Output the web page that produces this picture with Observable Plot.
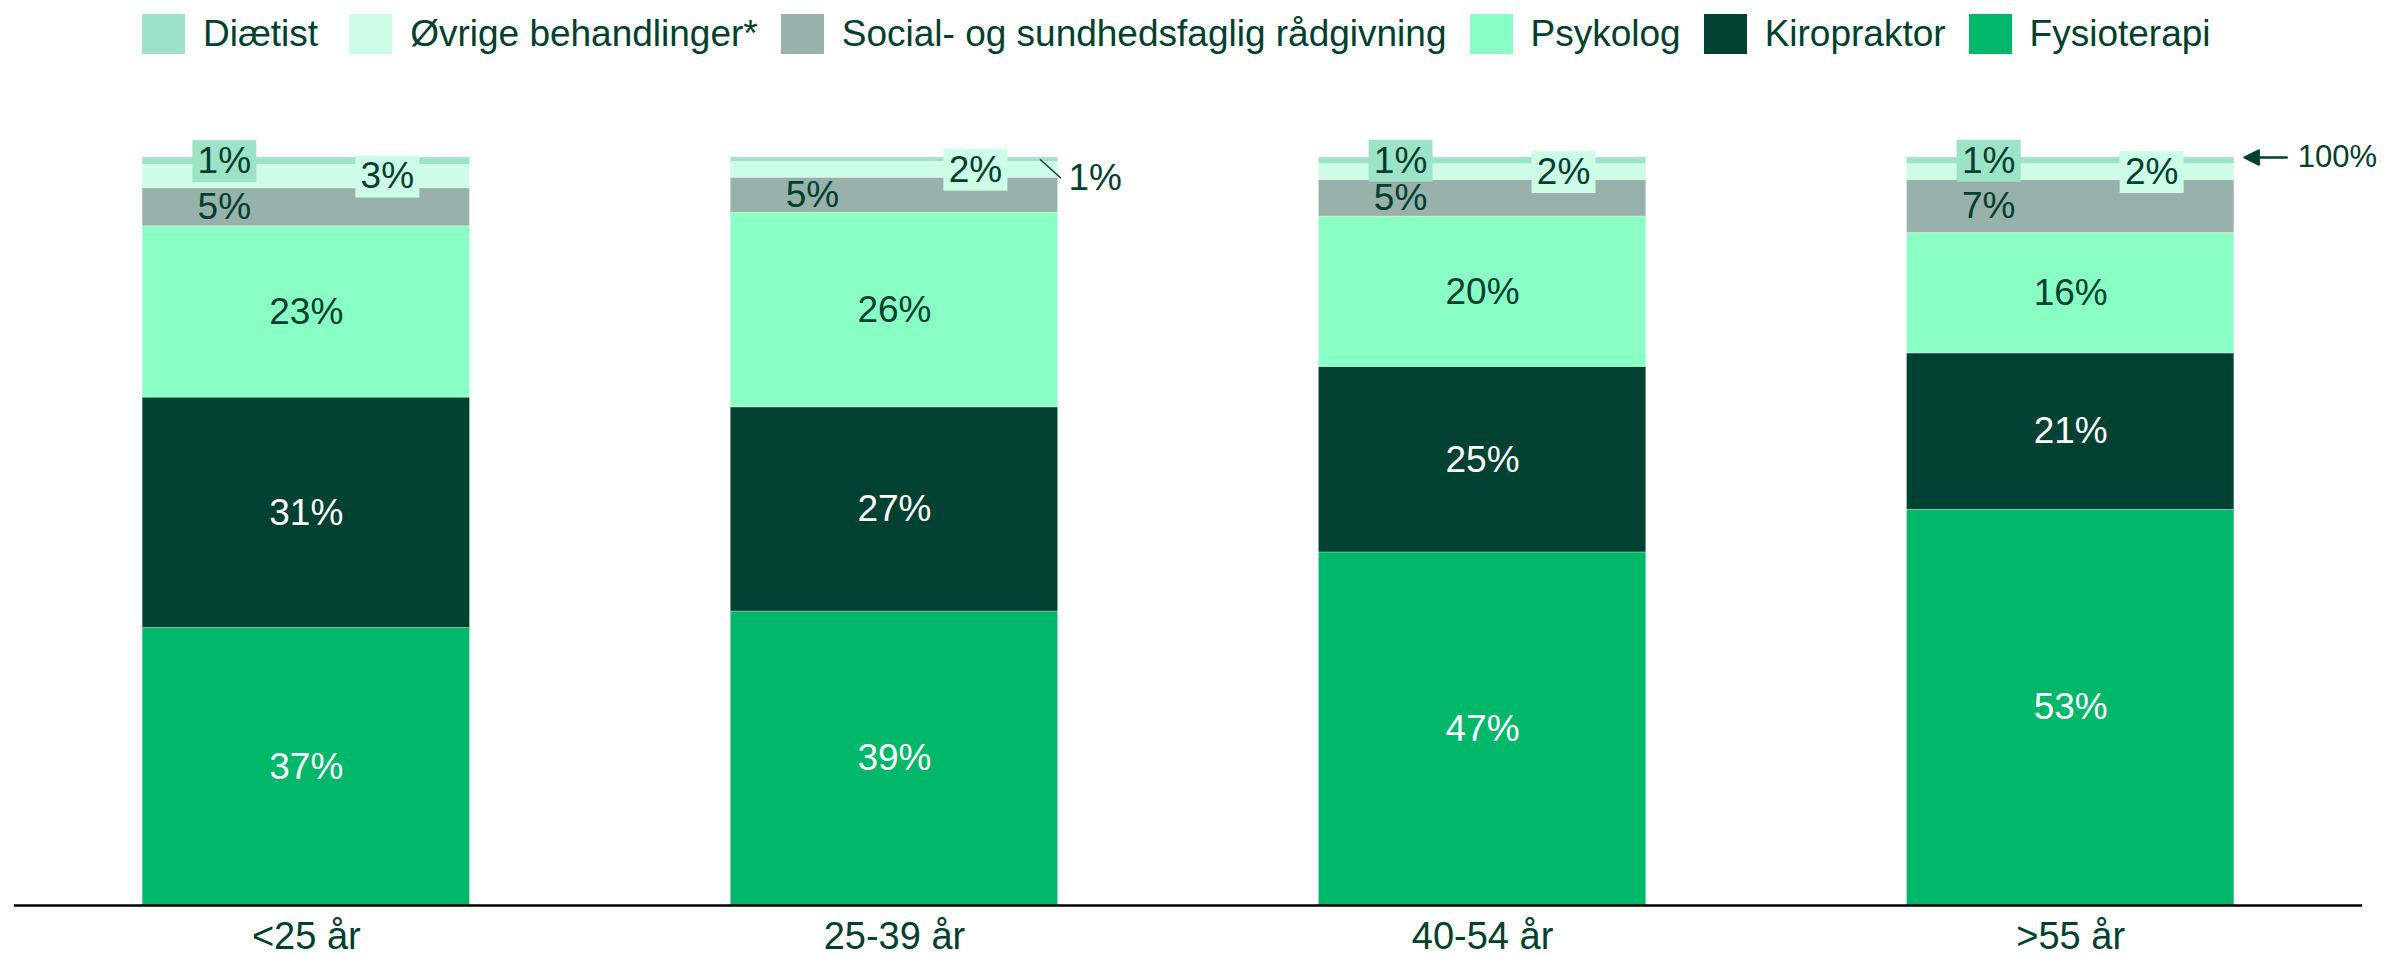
<!DOCTYPE html>
<html><head><meta charset="utf-8">
<script src="https://cdn.jsdelivr.net/npm/d3@7"></script>
<script src="https://cdn.jsdelivr.net/npm/@observablehq/plot@0.6"></script>
<style>
html,body{margin:0;padding:0;background:#fff;}
body{width:2399px;height:956px;overflow:hidden;font-family:"Liberation Sans",Arial,sans-serif;}
#legend{display:flex;height:60px;box-sizing:border-box;padding:8px 0 0 142px;color:#00402f;font-size:37px;}
.item{display:flex;align-items:center;margin-right:23px;}
.item:first-child{margin-right:31px;}
.sw{width:43px;height:40px;margin-right:18px;flex:none;}
.lab{line-height:40px;white-space:nowrap;}
</style></head><body>
<div id="legend"></div><div id="chart"></div>
<script>
// categories (x axis)
const ages = ["<25 år", "25-39 år", "40-54 år", ">55 år"];
// series, bottom to top of the stack
const types = ["Fysioterapi", "Kiropraktor", "Psykolog", "Social- og sundhedsfaglig rådgivning", "Øvrige behandlinger*", "Diætist"];
// values in % per age group
const fysioterapi = [37.1, 39.3, 47.2, 52.9];
const kiropraktor = [30.8, 27.3, 24.8, 20.9];
const psykolog    = [22.9, 26.0, 20.1, 16.1];
const social      = [5.1, 4.7, 4.9, 7.1];
const ovrige      = [3.1, 2.1, 2.1, 2.1];
const diaetist    = [1.0, 0.6, 0.9, 0.9];
const colors = ["#00b76a", "#004131", "#8affc5", "#99b1ab", "#cdfde6", "#9ce3c7"];
const legendOrder = ["Diætist", "Øvrige behandlinger*", "Social- og sundhedsfaglig rådgivning", "Psykolog", "Kiropraktor", "Fysioterapi"];

const series = [fysioterapi, kiropraktor, psykolog, social, ovrige, diaetist];
const data = types.flatMap((t, j) => ages.map((a, i) => ({age: a, type: t, value: series[j][i]})));
const totals = ages.map((a, i) => ({age: a, total: d3.sum(series, s => s[i])}));
const colorOf = t => colors[types.indexOf(t)];

// legend
const leg = document.getElementById("legend");
for (const t of legendOrder) {
  const it = document.createElement("div"); it.className = "item";
  const sw = document.createElement("div"); sw.className = "sw"; sw.style.background = colorOf(t);
  const lb = document.createElement("div"); lb.className = "lab"; lb.textContent = t;
  it.append(sw, lb); leg.append(it);
}

const dark = "#00402f";
const pct = d => Math.round(d.value) + "%";
const stack = {x: "age", y: "value", z: "type", order: types};
const rectSym = {draw(ctx) { ctx.rect(-32, -21, 64, 42); }};
const leaderShape = {draw(ctx, l) { ctx.moveTo(0, 0); ctx.lineTo(0, -l); }};
const arrowShape = {draw(ctx, l) {
  ctx.moveTo(0, 0); ctx.lineTo(0, -l);
  ctx.moveTo(0, -l); ctx.lineTo(-7, -l + 14); ctx.lineTo(7, -l + 14); ctx.closePath();
}};
const thin = d => d.type === "Diætist" && d.value < 0.75;

const chart = Plot.plot({
  width: 2399, height: 896,
  marginLeft: 14, marginRight: 37, marginTop: 97, marginBottom: 51,
  style: {fontFamily: "'Liberation Sans', Arial, sans-serif", fontSize: "37px", background: "white", color: dark, overflow: "visible"},
  x: {domain: ages, paddingInner: 0.4434, paddingOuter: 0.2179, align: 0.5, round: false, label: null},
  y: {domain: [0, 100], axis: null},
  color: {domain: types, range: colors},
  marks: [
    Plot.barY(data, {x: "age", y: "value", fill: "type", z: "type", order: types, stroke: "white", strokeOpacity: 0.3, strokeWidth: 1}),
    Plot.ruleY([0], {stroke: "black", strokeWidth: 2.5}),
    Plot.axisX({tickSize: 0, tickPadding: 17, fontSize: 38, fill: dark, label: null}),
    // big labels
    Plot.text(data, {...Plot.stackY(stack), filter: d => d.type === "Fysioterapi" || d.type === "Kiropraktor", text: pct, fill: "white", fontSize: 37}),
    Plot.text(data, {...Plot.stackY(stack), filter: d => d.type === "Psykolog", text: pct, fill: dark, fontSize: 37}),
    Plot.text(data, {...Plot.stackY(stack), filter: d => d.type === "Social- og sundhedsfaglig rådgivning", text: pct, fill: dark, fontSize: 37, dx: -82}),
    // Øvrige boxes + labels
    Plot.dot(data, {...Plot.stackY(stack), filter: d => d.type === "Øvrige behandlinger*", symbol: rectSym, fill: colorOf("Øvrige behandlinger*"), dx: 81}),
    Plot.text(data, {...Plot.stackY(stack), filter: d => d.type === "Øvrige behandlinger*", text: pct, fill: dark, fontSize: 37, dx: 81}),
    // Diætist boxes + labels
    Plot.dot(data, {...Plot.stackY(stack), filter: d => d.type === "Diætist" && !thin(d), symbol: rectSym, fill: colorOf("Diætist"), dx: -82}),
    Plot.text(data, {...Plot.stackY(stack), filter: d => d.type === "Diætist" && !thin(d), text: pct, fill: dark, fontSize: 37, dx: -82}),
    // thin Diætist: outside label with leader
    Plot.vector(data, {...Plot.stackY(stack), filter: thin, shape: leaderShape, length: 27, rotate: 132, anchor: "start", stroke: dark, strokeWidth: 1.5, dx: 146}),
    Plot.text(data, {...Plot.stackY(stack), filter: thin, text: pct, fill: dark, fontSize: 37, textAnchor: "start", dx: 174, dy: 18}),
    // 100% annotation
    Plot.vector(totals.slice(-1), {x: "age", y: "total", shape: arrowShape, length: 42, rotate: 270, anchor: "end", stroke: dark, fill: dark, strokeWidth: 2.5, dx: 174}),
    Plot.text(totals.slice(-1), {x: "age", y: "total", text: d => Math.round(d.total) + "%", fill: dark, fontSize: 31, textAnchor: "start", dx: 227})
  ]
});
document.getElementById("chart").append(chart);
</script>
</body></html>
